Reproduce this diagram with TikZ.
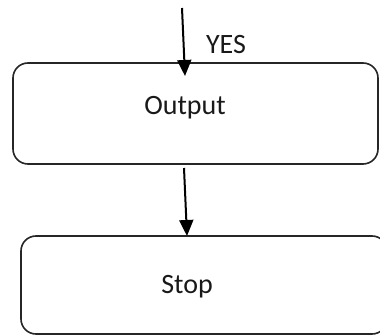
\documentclass[tikz,border=0pt]{standalone}
\usepackage{fontspec}
\setmainfont{Carlito}
\usetikzlibrary{arrows.meta}
\begin{document}
\begin{tikzpicture}[x=1pt,y=-1pt,
  flowbox/.style={draw=black!85, line width=1.6pt, rounded corners=15pt, inner sep=0pt},
  boxtext/.style={font=\fontsize{28}{32}\selectfont, text=black!90, inner sep=0pt},
  flowarrow/.style={draw=black, line width=2pt, -{Triangle[width=14pt,length=16pt]}}]
  \useasboundingbox (0,0) rectangle (380,336);
  \clip (0,0) rectangle (380,336);
  % process boxes
  \node[flowbox, minimum width=365pt, minimum height=101pt] (out) at (195.5,113.5) {};
  \node[flowbox, minimum width=366pt, minimum height=98pt] (stop) at (204,285) {};
  % box captions
  \node[boxtext] (outlabel) at (185,108) {Output};
  \node[boxtext] (stoplabel) at (187,287) {Stop};
  % incoming branch label
  \node[boxtext] (yes) at (226,45) {YES};
  % connectors
  \coordinate (in) at (182,8);
  \coordinate (intip) at (185,76);
  \coordinate (outfoot) at (184,168);
  \coordinate (stoptip) at (187,236);
  \draw[flowarrow] (in) -- (intip);
  \draw[flowarrow] (outfoot) -- (stoptip);
\end{tikzpicture}
\end{document}
